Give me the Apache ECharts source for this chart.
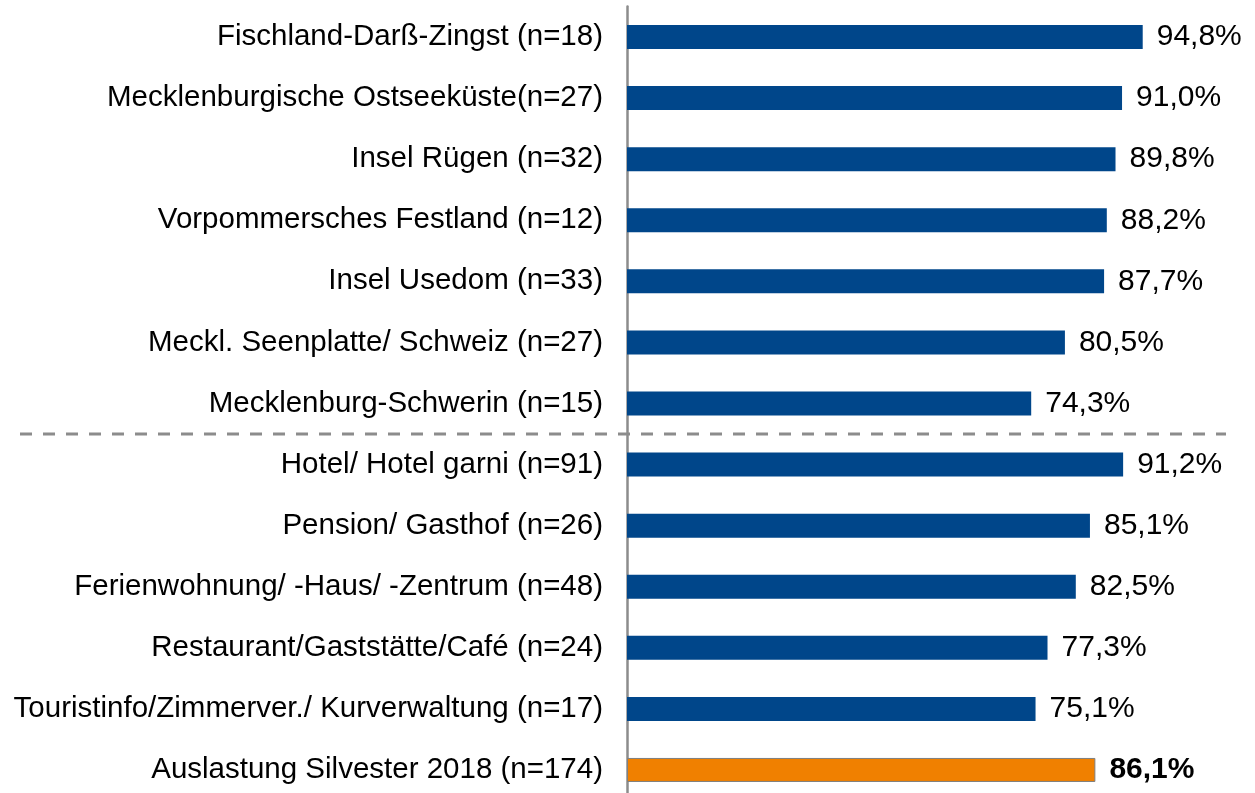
<!DOCTYPE html>
<html>
<head>
<meta charset="utf-8">
<script src="https://cdn.jsdelivr.net/npm/echarts@6/dist/echarts.min.js"></script>
<style>
  html, body { margin: 0; padding: 0; background: #fff; }
  #main { width: 1255px; height: 793px; }
</style>
</head>
<body>
<div id="main"></div>
<script>
  // Kategorien (oben nach unten)
  var categories = [
    'Fischland-Darß-Zingst (n=18)',
    'Mecklenburgische Ostseeküste(n=27)',
    'Insel Rügen (n=32)',
    'Vorpommersches Festland (n=12)',
    'Insel Usedom (n=33)',
    'Meckl. Seenplatte/ Schweiz (n=27)',
    'Mecklenburg-Schwerin (n=15)',
    'Hotel/ Hotel garni (n=91)',
    'Pension/ Gasthof (n=26)',
    'Ferienwohnung/ -Haus/ -Zentrum (n=48)',
    'Restaurant/Gaststätte/Café (n=24)',
    'Touristinfo/Zimmerver./ Kurverwaltung (n=17)',
    'Auslastung Silvester 2018 (n=174)'
  ]
  var values = [94.8, 91.0, 89.8, 88.2, 87.7, 80.5, 74.3, 91.2, 85.1, 82.5, 77.3, 75.1, 86.1]
  // Index der Gesamtzeile und Trennlinie zwischen Regionen und Betriebsarten
  var totalIndex = 12
  var splitAfter = 6

  var myChart = echarts.init(document.getElementById('main'))

  var seriesData = values.map(function (v, i) {
    if (i === totalIndex) {
      return {
        value: v,
        itemStyle: { color: '#F08000', borderColor: '#7f7f7f', borderWidth: 1 },
        label: { fontWeight: 'bold' }
      }
    }
    return v
  })

  myChart.setOption({
    animation: false,
    grid: { left: 627, right: 84, top: 6.5, height: 794, containLabel: false, outerBoundsMode: 'none' },
    xAxis: {
      type: 'value',
      min: 0,
      max: 100,
      show: false
    },
    yAxis: {
      type: 'category',
      inverse: true,
      data: categories,
      axisLine: { show: true, lineStyle: { color: '#8c8c8c', width: 2.5 } },
      axisTick: { show: false },
      axisLabel: {
        color: '#000',
        fontSize: 29.5,
        fontFamily: 'Liberation Sans, Arial, sans-serif',
        margin: 24
      }
    },
    series: [{
      type: 'bar',
      data: seriesData,
      barWidth: 24,
      itemStyle: { color: '#00468A' },
      label: {
        show: true,
        position: 'right',
        distance: 14,
        color: '#000',
        fontSize: 30,
        fontFamily: 'Liberation Sans, Arial, sans-serif',
        formatter: function (p) {
          return p.value.toFixed(1).replace('.', ',') + '%'
        }
      }
    }]
  })

  // gestrichelte Trennlinie zwischen zwei Kategorien
  var y1 = myChart.convertToPixel({ yAxisIndex: 0 }, categories[splitAfter])
  var y2 = myChart.convertToPixel({ yAxisIndex: 0 }, categories[splitAfter + 1])
  var ySplit = (y1 + y2) / 2
  myChart.setOption({
    graphic: [{
      type: 'line',
      shape: { x1: 20, y1: ySplit, x2: 1226, y2: ySplit },
      style: { stroke: '#8c8c8c', lineWidth: 3, lineDash: [12, 11] },
      z: 10
    }]
  })
</script>
</body>
</html>
